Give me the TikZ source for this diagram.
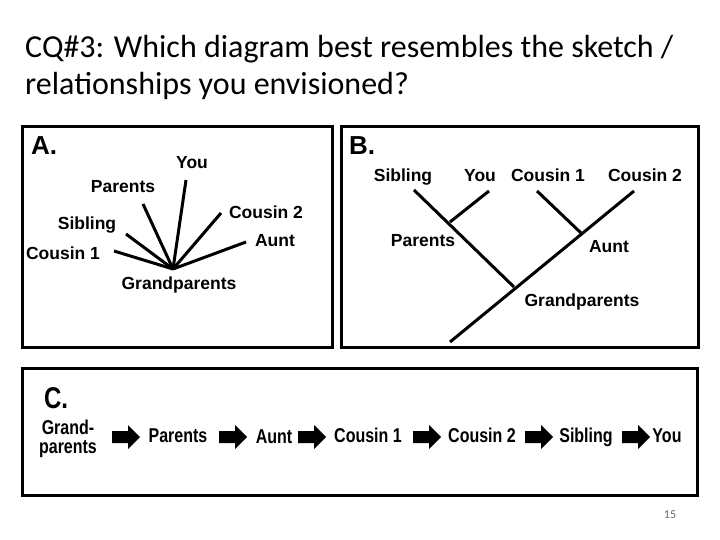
\documentclass[tikz,border=0pt]{standalone}
\usepackage{fontspec}
\setmainfont{Carlito}
\newfontfamily\lab{Liberation Sans}
\newfontfamily\labn[FakeStretch=0.8]{Liberation Sans}
\begin{document}
\begin{tikzpicture}[x=1pt,y=-1pt,
  lb/.style={font=\lab\bfseries\fontsize{17.5}{19}\selectfont,inner sep=0pt,text height=12.5pt,text depth=3.5pt},
  lc/.style={font=\labn\bfseries\fontsize{20}{21}\selectfont,inner sep=0pt,text height=14.5pt,text depth=4pt},
  ln/.style={line width=3pt},
  box/.style={line width=3pt},
  blk/.style={fill=black}]
\useasboundingbox (0,0) rectangle (720,540);
\node[anchor=west,align=left,font=\fontsize{32}{37}\selectfont,inner sep=0pt] (title) at (25,67)
 {CQ\#3: Which diagram best resembles the sketch /\\relationships you envisioned?};
% panel A
\draw[box] (22,127) rectangle (332,347);
\node[font=\lab\bfseries\fontsize{26}{28}\selectfont] (la) at (44,146) {A.};
\coordinate (hub) at (173,269);
\coordinate (eyou) at (186,180);
\coordinate (epar) at (143,204);
\coordinate (esib) at (126,234);
\coordinate (ec1) at (114,251);
\coordinate (ec2) at (221,213);
\coordinate (eaunt) at (246,242);
\foreach \e in {eyou,epar,esib,ec1,ec2,eaunt} \draw[ln] (hub) -- (\e);
\node[lb] (ayou) at (192,164) {You};
\node[lb] (apar) at (123,188) {Parents};
\node[lb] (asib) at (87,225) {Sibling};
\node[lb] (ac1) at (63,255) {Cousin 1};
\node[lb] (ac2) at (266,214) {Cousin 2};
\node[lb] (aaunt) at (275,242) {Aunt};
\node[lb] (agp) at (179,285) {Grandparents};
% panel B
\draw[box] (341,127) rectangle (698,347);
\node[font=\lab\bfseries\fontsize{26}{28}\selectfont] (lbb) at (362,146) {B.};
\coordinate (bsib) at (414,190);
\coordinate (bgj) at (514,287);
\coordinate (byou) at (489,191);
\coordinate (bpj) at (450,222);
\coordinate (broot) at (450,342);
\coordinate (bc2) at (634,191);
\coordinate (bc1) at (537,191);
\coordinate (baj) at (581,233);
\draw[ln] (bsib) -- (bgj);
\draw[ln] (byou) -- (bpj);
\draw[ln] (broot) -- (bc2);
\draw[ln] (bc1) -- (baj);
\node[lb] (tsib) at (403,177) {Sibling};
\node[lb] (tyou) at (480,177) {You};
\node[lb] (tc1) at (548,177) {Cousin 1};
\node[lb] (tc2) at (645,177) {Cousin 2};
\node[lb] (tpar) at (423,242) {Parents};
\node[lb] (taunt) at (609,248) {Aunt};
\node[lb] (tgp) at (582,302) {Grandparents};
% panel C
\draw[box] (22,368) rectangle (697,495);
\node[font=\labn\bfseries\fontsize{30}{30}\selectfont] (lc) at (56,398) {C.};
\node[lc,align=center,text height=,text depth=] (cgp) at (68,439) {Grand-\\[-2pt]parents};
\node[lc] (cpar) at (178,437) {Parents};
\node[lc] (caunt) at (274,438) {Aunt};
\node[lc] (cc1) at (368,437) {Cousin 1};
\node[lc] (cc2) at (482,437) {Cousin 2};
\node[lc] (csib) at (586,437) {Sibling};
\node[lc] (cyou) at (667,437) {You};
\foreach \x in {112,219,298,413,525,622}
  \fill[blk] (\x,431) -- (\x+16,431) -- (\x+16,425) -- (\x+28,437) -- (\x+16,449) -- (\x+16,443) -- (\x,443) -- cycle;
\node[font=\fontsize{12}{14}\selectfont,text=black!60] (pg) at (670,515) {15};
\end{tikzpicture}
\end{document}
